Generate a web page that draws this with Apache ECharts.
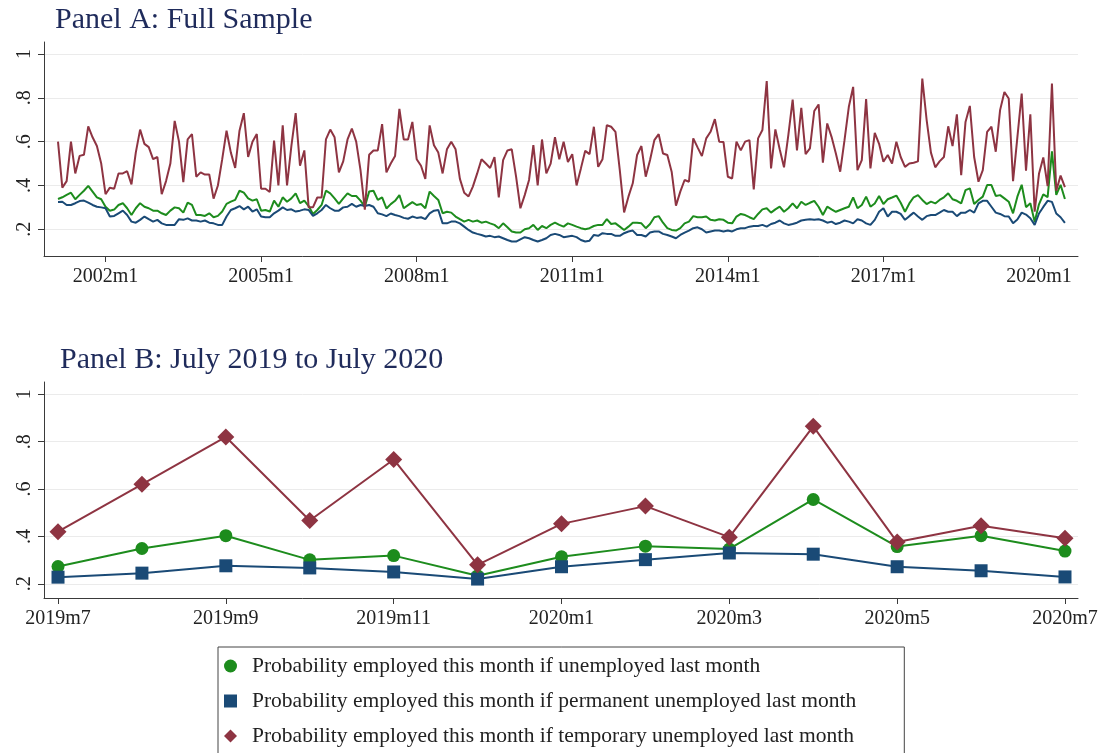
<!DOCTYPE html>
<html>
<head>
<meta charset="utf-8">
<script src="https://cdn.jsdelivr.net/npm/echarts@6.0.0/dist/echarts.min.js"></script>
<style>
  html, body { margin: 0; padding: 0; background: #fff; }
  #chart { width: 1104px; height: 753px; }
</style>
</head>
<body>
<div id="chart"></div>
<script>
const FONT = 'Liberation Serif';

// monthly values, first month is 2001m2, last is 2020m7
const firstYear = 2001;
const firstMonth = 2;

const probAll = [
  0.338, 0.346, 0.357, 0.367, 0.337, 0.357, 0.376, 0.398, 0.372, 0.346,
  0.337, 0.303, 0.285, 0.290, 0.311, 0.319, 0.296, 0.265, 0.296, 0.319,
  0.303, 0.296, 0.285, 0.285, 0.273, 0.265, 0.285, 0.300, 0.296, 0.276,
  0.322, 0.311, 0.265, 0.265, 0.261, 0.273, 0.255, 0.261, 0.281, 0.316,
  0.326, 0.334, 0.376, 0.367, 0.341, 0.331, 0.337, 0.285, 0.288, 0.281,
  0.331, 0.303, 0.346, 0.326, 0.341, 0.364, 0.319, 0.331, 0.306, 0.270,
  0.288, 0.311, 0.376, 0.364, 0.341, 0.316, 0.341, 0.364, 0.352, 0.352,
  0.331, 0.303, 0.372, 0.376, 0.334, 0.346, 0.295, 0.315, 0.330, 0.356,
  0.296, 0.310, 0.324, 0.311, 0.315, 0.296, 0.372, 0.352, 0.334, 0.273,
  0.280, 0.276, 0.258, 0.246, 0.235, 0.243, 0.235, 0.240, 0.230, 0.235,
  0.227, 0.220, 0.205, 0.227, 0.209, 0.190, 0.185, 0.185, 0.200, 0.205,
  0.220, 0.197, 0.215, 0.205, 0.220, 0.230, 0.220, 0.212, 0.227, 0.220,
  0.212, 0.205, 0.200, 0.205, 0.215, 0.220, 0.220, 0.246, 0.224, 0.227,
  0.212, 0.197, 0.212, 0.230, 0.230, 0.227, 0.205, 0.224, 0.255, 0.260,
  0.230, 0.205, 0.197, 0.194, 0.205, 0.227, 0.235, 0.260, 0.255, 0.255,
  0.258, 0.243, 0.240, 0.246, 0.243, 0.230, 0.227, 0.258, 0.270, 0.265,
  0.255, 0.246, 0.270, 0.291, 0.296, 0.276, 0.291, 0.303, 0.280, 0.296,
  0.318, 0.296, 0.326, 0.311, 0.321, 0.330, 0.303, 0.265, 0.303, 0.291,
  0.280, 0.288, 0.296, 0.303, 0.346, 0.296, 0.311, 0.349, 0.303, 0.318,
  0.352, 0.315, 0.337, 0.345, 0.354, 0.321, 0.280, 0.318, 0.346, 0.356,
  0.334, 0.315, 0.326, 0.318, 0.334, 0.346, 0.364, 0.337, 0.330, 0.318,
  0.379, 0.387, 0.315, 0.334, 0.349, 0.402, 0.402, 0.352, 0.356, 0.341,
  0.326, 0.273, 0.349, 0.403, 0.301, 0.319, 0.234, 0.314, 0.359, 0.347,
  0.556, 0.357, 0.403, 0.338,
];

const probPermanent = [
  0.325, 0.326, 0.311, 0.311, 0.319, 0.329, 0.331, 0.322, 0.311, 0.303,
  0.300, 0.296, 0.258, 0.261, 0.273, 0.285, 0.265, 0.235, 0.230, 0.243,
  0.258, 0.246, 0.235, 0.243, 0.227, 0.220, 0.220, 0.220, 0.246, 0.243,
  0.250, 0.240, 0.240, 0.235, 0.240, 0.230, 0.227, 0.220, 0.220, 0.258,
  0.288, 0.296, 0.306, 0.291, 0.303, 0.281, 0.291, 0.258, 0.255, 0.255,
  0.273, 0.285, 0.300, 0.288, 0.291, 0.281, 0.285, 0.291, 0.288, 0.261,
  0.273, 0.288, 0.311, 0.296, 0.285, 0.285, 0.300, 0.303, 0.316, 0.303,
  0.311, 0.306, 0.311, 0.303, 0.273, 0.268, 0.260, 0.272, 0.265, 0.260,
  0.252, 0.248, 0.258, 0.252, 0.255, 0.246, 0.273, 0.285, 0.288, 0.227,
  0.227, 0.235, 0.235, 0.227, 0.212, 0.197, 0.185, 0.179, 0.174, 0.167,
  0.170, 0.164, 0.167, 0.159, 0.151, 0.144, 0.144, 0.154, 0.164, 0.159,
  0.151, 0.144, 0.151, 0.159, 0.174, 0.179, 0.174, 0.164, 0.167, 0.170,
  0.164, 0.151, 0.144, 0.148, 0.174, 0.170, 0.182, 0.179, 0.179, 0.170,
  0.170, 0.182, 0.190, 0.194, 0.174, 0.174, 0.167, 0.185, 0.190, 0.190,
  0.179, 0.174, 0.167, 0.159, 0.174, 0.185, 0.194, 0.205, 0.209, 0.200,
  0.185, 0.190, 0.194, 0.194, 0.190, 0.194, 0.190, 0.200, 0.205, 0.205,
  0.212, 0.215, 0.215, 0.220, 0.212, 0.224, 0.230, 0.240, 0.227, 0.220,
  0.224, 0.230, 0.240, 0.243, 0.246, 0.243, 0.246, 0.240, 0.230, 0.235,
  0.224, 0.230, 0.240, 0.235, 0.227, 0.246, 0.240, 0.227, 0.220, 0.243,
  0.280, 0.296, 0.258, 0.280, 0.280, 0.270, 0.243, 0.260, 0.276, 0.258,
  0.243, 0.260, 0.265, 0.265, 0.276, 0.288, 0.280, 0.280, 0.260, 0.276,
  0.276, 0.288, 0.276, 0.318, 0.330, 0.330, 0.303, 0.276, 0.270, 0.260,
  0.258, 0.228, 0.245, 0.276, 0.267, 0.250, 0.220, 0.272, 0.302, 0.330,
  0.325, 0.272, 0.255, 0.229,
];

const probTemporary = [
  0.600, 0.390, 0.420, 0.600, 0.455, 0.535, 0.540, 0.670, 0.620, 0.580,
  0.500, 0.360, 0.390, 0.385, 0.455, 0.455, 0.465, 0.405, 0.550, 0.655,
  0.590, 0.575, 0.520, 0.530, 0.360, 0.420, 0.500, 0.695, 0.600, 0.415,
  0.610, 0.635, 0.440, 0.460, 0.450, 0.450, 0.340, 0.400, 0.520, 0.650,
  0.550, 0.480, 0.650, 0.730, 0.530, 0.600, 0.635, 0.385, 0.385, 0.370,
  0.605, 0.400, 0.675, 0.400, 0.580, 0.730, 0.490, 0.560, 0.300, 0.300,
  0.345, 0.345, 0.610, 0.655, 0.620, 0.460, 0.510, 0.610, 0.660, 0.600,
  0.470, 0.290, 0.540, 0.560, 0.560, 0.680, 0.460, 0.500, 0.535, 0.750,
  0.610, 0.610, 0.690, 0.520, 0.490, 0.430, 0.674, 0.584, 0.550, 0.455,
  0.565, 0.600, 0.565, 0.430, 0.367, 0.350, 0.395, 0.455, 0.520, 0.500,
  0.480, 0.530, 0.346, 0.516, 0.560, 0.565, 0.440, 0.296, 0.356, 0.425,
  0.584, 0.400, 0.610, 0.455, 0.500, 0.620, 0.520, 0.600, 0.507, 0.543,
  0.400, 0.478, 0.558, 0.543, 0.668, 0.485, 0.520, 0.675, 0.668, 0.645,
  0.470, 0.277, 0.349, 0.410, 0.539, 0.580, 0.440, 0.516, 0.607, 0.634,
  0.546, 0.539, 0.463, 0.308, 0.372, 0.425, 0.417, 0.615, 0.574, 0.534,
  0.615, 0.645, 0.703, 0.600, 0.598, 0.440, 0.432, 0.600, 0.560, 0.600,
  0.607, 0.382, 0.615, 0.653, 0.877, 0.478, 0.656, 0.565, 0.483, 0.630,
  0.792, 0.560, 0.754, 0.543, 0.569, 0.740, 0.770, 0.504, 0.683, 0.622,
  0.546, 0.463, 0.607, 0.759, 0.850, 0.470, 0.516, 0.794, 0.478, 0.640,
  0.590, 0.508, 0.539, 0.500, 0.600, 0.530, 0.485, 0.500, 0.504, 0.510,
  0.888, 0.700, 0.550, 0.483, 0.510, 0.530, 0.670, 0.580, 0.725, 0.447,
  0.690, 0.763, 0.530, 0.417, 0.470, 0.645, 0.668, 0.554, 0.744, 0.827,
  0.797, 0.420, 0.620, 0.820, 0.467, 0.725, 0.280, 0.453, 0.528, 0.397,
  0.865, 0.376, 0.445, 0.392,
];

const panelATickLabels = ['2002m1', '2005m1', '2008m1', '2011m1', '2014m1', '2017m1', '2020m1'];
// Panel B is the last 13 months of the same series
const panelBMonths = ['2019m7', '2019m8', '2019m9', '2019m10', '2019m11', '2019m12',
  '2020m1', '2020m2', '2020m3', '2020m4', '2020m5', '2020m6', '2020m7'];
const panelBTickLabels = ['2019m7', '2019m9', '2019m11', '2020m1', '2020m3', '2020m5', '2020m7'];
const yTickValues = [0.2, 0.4, 0.6, 0.8, 1];
const yTickLabels = ['.2', '.4', '.6', '.8', '1'];

const seriesNames = [
  'Probability employed this month if unemployed last month',
  'Probability employed this month if permanent unemployed last month',
  'Probability employed this month if temporary unemployed last month',
];
const seriesColors = ['#1d8c1d', '#1a4a76', '#8e3442'];
const seriesSymbols = ['circle', 'rect', 'diamond'];
const seriesSymbolSizes = [13, 13, 17];

const monthOffset = (label) => {
  const [y, m] = label.split('m').map(Number);
  return (y - firstYear) * 12 + (m - firstMonth);
};

const axisColor = '#3a3a3a';
const textColor = '#222';

const yAxisFor = (gridIndex, min, max) => ({
  type: 'value',
  gridIndex,
  min,
  max,
  axisLine: { show: true, onZero: false, lineStyle: { color: axisColor, width: 1 } },
  axisTick: { show: true, length: 6, customValues: yTickValues, lineStyle: { color: axisColor } },
  axisLabel: {
    customValues: yTickValues,
    rotate: 90,
    margin: 9,
    fontFamily: FONT,
    fontSize: 20,
    color: textColor,
    formatter: (v) => yTickLabels[yTickValues.findIndex(t => Math.abs(t - v) < 1e-6)],
  },
  splitLine: { show: true, lineStyle: { color: '#ebebeb', width: 1 } },
});

const xAxisFor = (gridIndex, min, max, tickLabels, toValue) => {
  const values = tickLabels.map(toValue);
  return {
    type: 'value',
    gridIndex,
    min,
    max,
    axisLine: { show: true, onZero: false, lineStyle: { color: axisColor, width: 1 } },
    axisTick: { show: true, length: 6, customValues: values, lineStyle: { color: axisColor } },
    axisLabel: {
      customValues: values,
      margin: 11,
      fontFamily: FONT,
      fontSize: 20,
      color: textColor,
      formatter: (v) => tickLabels[values.findIndex(t => Math.abs(t - v) < 1e-6)],
    },
    splitLine: { show: false },
  };
};

const panelAData = [probAll, probPermanent, probTemporary];

const seriesA = panelAData.map((values, i) => ({
  name: seriesNames[i],
  type: 'line',
  xAxisIndex: 0,
  yAxisIndex: 0,
  showSymbol: false,
  data: values.map((v, idx) => [idx, v]),
  itemStyle: { color: seriesColors[i] },
  lineStyle: { color: seriesColors[i], width: 2 },
}));

const seriesB = panelAData.map((values, i) => ({
  name: seriesNames[i],
  type: 'line',
  xAxisIndex: 1,
  yAxisIndex: 1,
  symbol: seriesSymbols[i],
  symbolSize: seriesSymbolSizes[i],
  data: values.slice(-panelBMonths.length).map((v, idx) => [idx, v]),
  itemStyle: { color: seriesColors[i] },
  lineStyle: { color: seriesColors[i], width: 2 },
}));

const option = {
  backgroundColor: '#fff',
  animation: false,
  textStyle: { fontFamily: FONT },
  title: [
    {
      text: 'Panel A: Full Sample',
      left: 55,
      top: 5,
      padding: 0,
      textStyle: { fontFamily: FONT, fontSize: 30, fontWeight: 'normal', color: '#1f2b5b' },
    },
    {
      text: 'Panel B: July 2019 to July 2020',
      left: 60,
      top: 345,
      padding: 0,
      textStyle: { fontFamily: FONT, fontSize: 30, fontWeight: 'normal', color: '#1f2b5b' },
    },
  ],
  grid: [
    { left: 44, right: 26, top: 42, height: 214, outerBoundsMode: 'none' },
    { left: 44, right: 26, top: 382, height: 216, outerBoundsMode: 'none' },
  ],
  xAxis: [
    xAxisFor(0, -3.24, 236.03, panelATickLabels, monthOffset),
    xAxisFor(1, -0.167, 12.155, panelBTickLabels, (l) => panelBMonths.indexOf(l)),
  ],
  yAxis: [
    yAxisFor(0, 0.078, 1.055),
    yAxisFor(1, 0.14, 1.052),
  ],
  legend: {
    orient: 'vertical',
    left: 218,
    top: 647,
    height: 200,
    padding: [7, 48, 20, 6],
    itemWidth: 13,
    itemHeight: 13,
    itemGap: 11,
    borderColor: '#444',
    borderWidth: 1,
    data: seriesNames.map((name, i) => ({ name, icon: seriesSymbols[i] })),
    textStyle: {
      fontFamily: FONT,
      fontSize: 21.5,
      lineHeight: 24,
      color: textColor,
      padding: [0, 0, 0, 10],
    },
  },
  series: [...seriesA, ...seriesB],
};

const chart = echarts.init(document.getElementById('chart'), null, { renderer: 'canvas' });
chart.setOption(option);
</script>
</body>
</html>
